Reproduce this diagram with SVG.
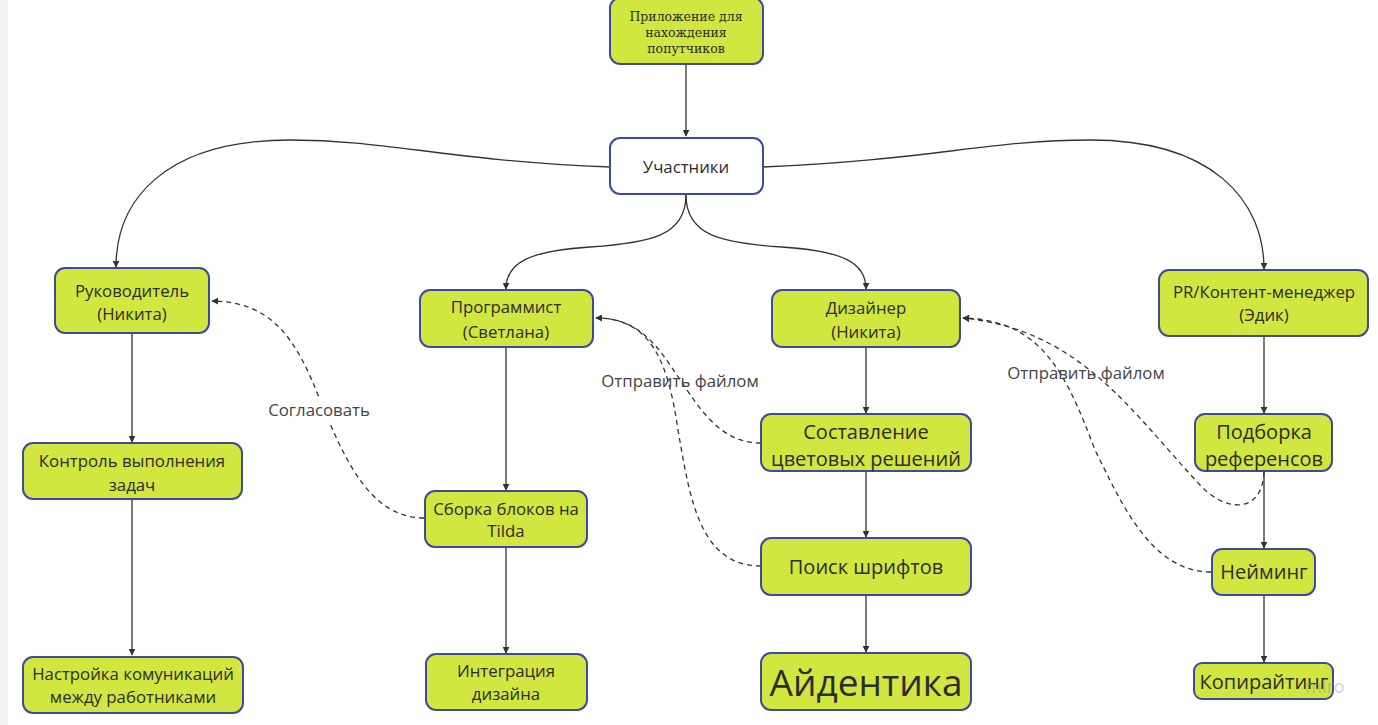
<svg xmlns="http://www.w3.org/2000/svg" width="1378" height="725" viewBox="0 0 1378 725">
<style>
.n rect{fill:#d1e63f;stroke:#3e4a9b;stroke-width:2}
.w rect{fill:#ffffff;stroke:#3e4a9b;stroke-width:2}
text{font-family:"Open Sans","Liberation Sans",sans-serif;fill:#2d2d2d;text-anchor:middle}
.s15{font-size:16.8px}
.s20{font-size:20px}
.serif{font-family:"DejaVu Serif","Liberation Serif",serif;font-size:12.5px}
.lbl{font-size:16.8px;fill:#444}
.c path{fill:none;stroke:#333;stroke-width:1.3}
.c .d{stroke-dasharray:5 4}
</style>
<defs>
<marker id="ar" viewBox="0 0 10 10" refX="9" refY="5" markerWidth="7" markerHeight="7" markerUnits="userSpaceOnUse" orient="auto">
<path d="M0,0 L10,5 L0,10 z" fill="#333"/>
</marker>
</defs>
<rect x="0" y="0" width="1378" height="725" fill="#ffffff"/>
<rect x="0" y="0" width="8" height="725" fill="#f2f2f2"/>

<g id="connectors" class="c">
<path d="M686,65 L686,136" marker-end="url(#ar)"/>
<path d="M610,167 C 440,160 390,140 290,140 C 165,140 116,200 116,267" marker-end="url(#ar)"/>
<path d="M763,167 C 930,160 990,140 1090,140 C 1212,140 1264,200 1264,269" marker-end="url(#ar)"/>
<path d="M686,195 C 686,236 650,243 590,247 C 530,251 506,262 506,289" marker-end="url(#ar)"/>
<path d="M686,195 C 686,236 722,243 782,247 C 842,251 866,262 866,289" marker-end="url(#ar)"/>
<path d="M132,334 L132,442" marker-end="url(#ar)"/>
<path d="M132,500 L132,655" marker-end="url(#ar)"/>
<path d="M506,348 L506,490" marker-end="url(#ar)"/>
<path d="M506,548 L506,653" marker-end="url(#ar)"/>
<path d="M866,348 L866,413" marker-end="url(#ar)"/>
<path d="M866,472 L866,537" marker-end="url(#ar)"/>
<path d="M866,596 L866,652" marker-end="url(#ar)"/>
<path d="M1264,337 L1264,413" marker-end="url(#ar)"/>
<path d="M1264,472 L1264,548" marker-end="url(#ar)"/>
<path d="M1264,596 L1264,662" marker-end="url(#ar)"/>
<path class="d" d="M424,518 C 370,518 345,460 320,400 C 295,335 270,302 212,301" marker-end="url(#ar)"/>
<path class="d" d="M761,443 C 715,443 695,400 670,365 C 650,335 630,318 596,318" marker-end="url(#ar)"/>
<path class="d" d="M761,566 C 700,566 690,500 678,430 C 668,360 650,318 596,318" marker-end="url(#ar)"/>
<path class="d" d="M1264,472 C 1262,515 1225,512 1200,485 C 1130,410 1080,330 963,318" marker-end="url(#ar)"/>
<path class="d" d="M1211,572 C 1150,572 1120,500 1095,450 C 1065,370 1040,320 963,318" marker-end="url(#ar)"/>
<rect x="265" y="398" width="108" height="24" fill="#ffffff"/>
<text class="lbl" x="319" y="416">Согласовать</text>
<text class="lbl" x="680" y="387">Отправить файлом</text>
<text class="lbl" x="1086" y="379">Отправить файлом</text>
</g>

<g id="n-app" class="n"><rect x="610" y="-2" width="153" height="66" rx="10"/>
<text class="serif" x="686" y="21">Приложение для</text><text class="serif" x="686" y="37">нахождения</text><text class="serif" x="686" y="53">попутчиков</text></g>
<g id="n-uch" class="w"><rect x="610" y="138" width="153" height="56" rx="10"/>
<text class="s15" x="686" y="173">Участники</text></g>
<g id="n-ruk" class="n"><rect x="55" y="268" width="154" height="65" rx="10"/>
<text class="s15" x="132" y="297">Руководитель</text><text class="s15" x="132" y="320">(Никита)</text></g>
<g id="n-kontrol" class="n"><rect x="23" y="443" width="219" height="56" rx="10"/>
<text class="s15" x="132" y="467">Контроль выполнения</text><text class="s15" x="132" y="491">задач</text></g>
<g id="n-nastr" class="n"><rect x="23" y="657" width="220" height="56" rx="10"/>
<text class="s15" x="133" y="680">Настройка комуникаций</text><text class="s15" x="133" y="703">между работниками</text></g>
<g id="n-prog" class="n"><rect x="420" y="290" width="173" height="57" rx="10"/>
<text class="s15" x="506" y="313">Программист</text><text class="s15" x="506" y="338">(Светлана)</text></g>
<g id="n-tilda" class="n"><rect x="425" y="491" width="162" height="56" rx="10"/>
<text class="s15" x="506" y="515">Сборка блоков на</text><text class="s15" x="506" y="537">Tilda</text></g>
<g id="n-integr" class="n"><rect x="426" y="654" width="161" height="56" rx="10"/>
<text class="s15" x="506" y="677">Интеграция</text><text class="s15" x="506" y="700">дизайна</text></g>
<g id="n-diz" class="n"><rect x="772" y="290" width="188" height="57" rx="10"/>
<text class="s15" x="866" y="314">Дизайнер</text><text class="s15" x="866" y="338">(Никита)</text></g>
<g id="n-color" class="n"><rect x="761" y="414" width="210" height="57" rx="10"/>
<text class="s20" x="866" y="439">Составление</text><text class="s20" x="866" y="466">цветовых решений</text></g>
<g id="n-font" class="n"><rect x="761" y="538" width="210" height="57" rx="10"/>
<text class="s20" x="866" y="574">Поиск шрифтов</text></g>
<g id="n-ident" class="n"><rect x="761" y="653" width="210" height="57" rx="10"/>
<text x="866" y="696" style="font-size:37px">Айдентика</text></g>
<g id="n-pr" class="n"><rect x="1159" y="270" width="209" height="66" rx="10"/>
<text class="s15" x="1264" y="298">PR/Контент-менеджер</text><text class="s15" x="1264" y="321">(Эдик)</text></g>
<g id="n-ref" class="n"><rect x="1195" y="414" width="137" height="57" rx="10"/>
<text class="s20" x="1264" y="439">Подборка</text><text class="s20" x="1264" y="466">референсов</text></g>
<g id="n-name" class="n"><rect x="1212" y="549" width="103" height="46" rx="10"/>
<text class="s20" x="1264" y="579">Нейминг</text></g>
<g id="n-copy" class="n"><rect x="1194" y="663" width="139" height="36" rx="8"/>
<text class="s20" x="1264" y="689">Копирайтинг</text></g>
<text x="1325" y="693" style="font-size:18px;fill:#9a9a9a;opacity:0.45">miro</text>
</svg>
